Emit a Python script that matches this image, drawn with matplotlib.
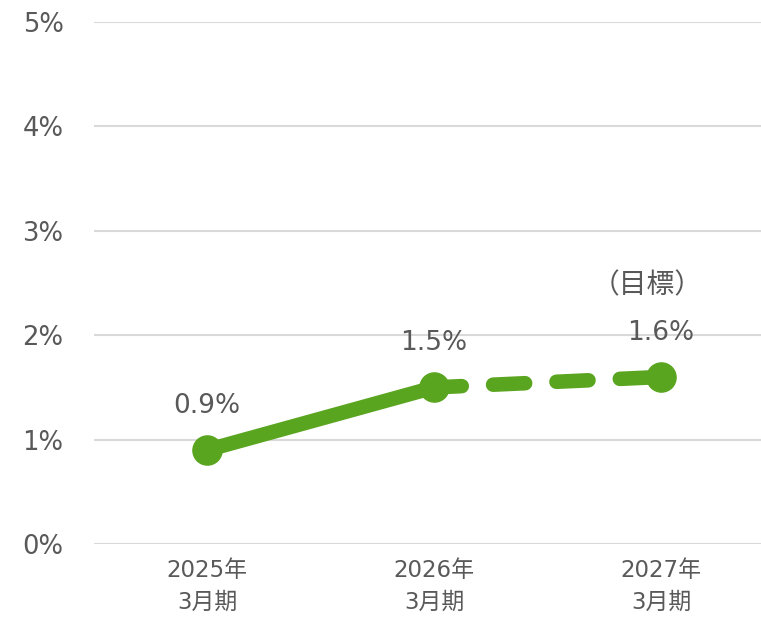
import matplotlib
matplotlib.use('Agg')
import matplotlib.pyplot as plt

plt.rcParams['font.family'] = ['DejaVu Sans', 'Noto Sans CJK JP']

# chart data
periods = ['2025年\n3月期', '2026年\n3月期', '2027年\n3月期']
values = [0.9, 1.5, 1.6]
labels = ['0.9%', '1.5%', '1.6%']
yticks = [0, 1, 2, 3, 4, 5]
target_note = '（目標）'

green = '#5aa51f'
grey = '#595959'

fig = plt.figure(figsize=(7.61, 6.18), dpi=100)
ax = fig.add_axes([94/761, 74/618, 667/761, 522/618])

x = list(range(len(periods)))

# actual (solid) and forecast (dashed)
ax.plot(x[:2], values[:2], color=green, lw=10.5, solid_capstyle='round', zorder=3)
ax.plot(x[1:], values[1:], color=green, lw=10.5, ls=(0.3, (2.2, 2.15)),
        dash_capstyle='round', zorder=3)
ax.plot(x, values, 'o', color=green, ms=21, zorder=4)

for xi, v, t in zip(x, values, labels):
    ax.annotate(t, (xi, v), xytext=(0, 32), textcoords='offset points',
                ha='center', va='center', fontsize=19, color=grey)

ax.annotate(target_note, (x[-1], values[-1]), xytext=(-10, 66),
            textcoords='offset points', ha='center', va='center',
            fontsize=20, color=grey)

ax.set_ylim(0, 5)
ax.set_xlim(-0.498, 2.44)
ax.set_yticks(yticks)
ax.set_yticklabels([f'{t}%' for t in yticks])
ax.set_xticks(x)
ax.set_xticklabels(periods, linespacing=1.45)

ax.grid(axis='y', color='#d9d9d9', lw=1.5, zorder=0)
ax.set_axisbelow(True)
for s in ax.spines.values():
    s.set_visible(False)
ax.tick_params(axis='y', length=0, pad=22, labelsize=18.6, labelcolor=grey)
ax.tick_params(axis='x', length=0, pad=11, labelsize=16.5, labelcolor=grey)

fig.savefig('out.png', dpi=100)
